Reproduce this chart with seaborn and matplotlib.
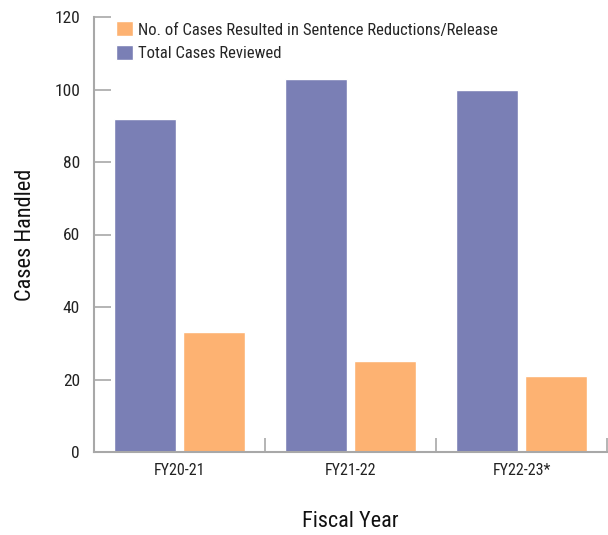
import matplotlib
matplotlib.use("Agg")
import matplotlib.pyplot as plt
import seaborn as sns
import pandas as pd
import logging
logging.getLogger("matplotlib.font_manager").setLevel(logging.ERROR)

years = ["FY20-21", "FY21-22", "FY22-23*"]
total_reviewed = [92, 103, 100]
reductions = [33, 25, 21]
series_names = ["Total Cases Reviewed", "No. of Cases Resulted in Sentence Reductions/Release"]
colors = {"Total Cases Reviewed": "#7a7fb5",
          "No. of Cases Resulted in Sentence Reductions/Release": "#fdb272"}

df = pd.DataFrame({
    "year": years * 2,
    "series": [series_names[0]] * 3 + [series_names[1]] * 3,
    "value": total_reviewed + reductions,
})

sns.set_theme(style="white")
plt.rcParams["font.family"] = ["Roboto Condensed", "DejaVu Sans Condensed", "DejaVu Sans"]
plt.rcParams["font.stretch"] = "condensed"

fig = plt.figure(figsize=(6.08, 5.35), dpi=100)
ax = fig.add_axes([94/608, 83/535, (607-94)/608, (452-17)/535])

sns.barplot(data=df, x="year", y="value", hue="series", hue_order=series_names,
            palette=colors, width=0.807, gap=0.1, ax=ax, saturation=1, legend=True)

ax.set_ylim(0, 120)
ax.set_xlim(-0.5, 2.5)
ax.set_yticks([0, 20, 40, 60, 80, 100, 120])
grey = "#a8a8a8"
for s in ["top", "right"]:
    ax.spines[s].set_visible(False)
for s in ["left", "bottom"]:
    ax.spines[s].set_color(grey)
    ax.spines[s].set_linewidth(1.5)
ax.tick_params(axis="y", direction="in", length=12, width=1.2, color=grey,
               labelsize=12.5, labelcolor="#222222", pad=10, left=True)
ax.tick_params(axis="x", which="major", length=0, labelsize=11.5, labelcolor="#222222", pad=8)
ax.set_xticks([-0.5, 0.5, 1.5, 2.5], minor=True)
ax.tick_params(axis="x", which="minor", direction="in", length=10, width=1.2, color=grey, bottom=True)

ax.set_xlabel("Fiscal Year", fontsize=16, color="#111111", labelpad=24)
ax.set_ylabel("Cases Handled", fontsize=16, color="#111111", labelpad=13)

handles, labels = ax.get_legend_handles_labels()
ax.legend(handles[::-1], labels[::-1], loc="upper left", bbox_to_anchor=(0.03, 1.005),
          frameon=False, fontsize=12, handlelength=1.0, handleheight=1.0,
          handletextpad=0.3, labelspacing=0.45, borderaxespad=0.0)

fig.savefig("out.png", dpi=100)
